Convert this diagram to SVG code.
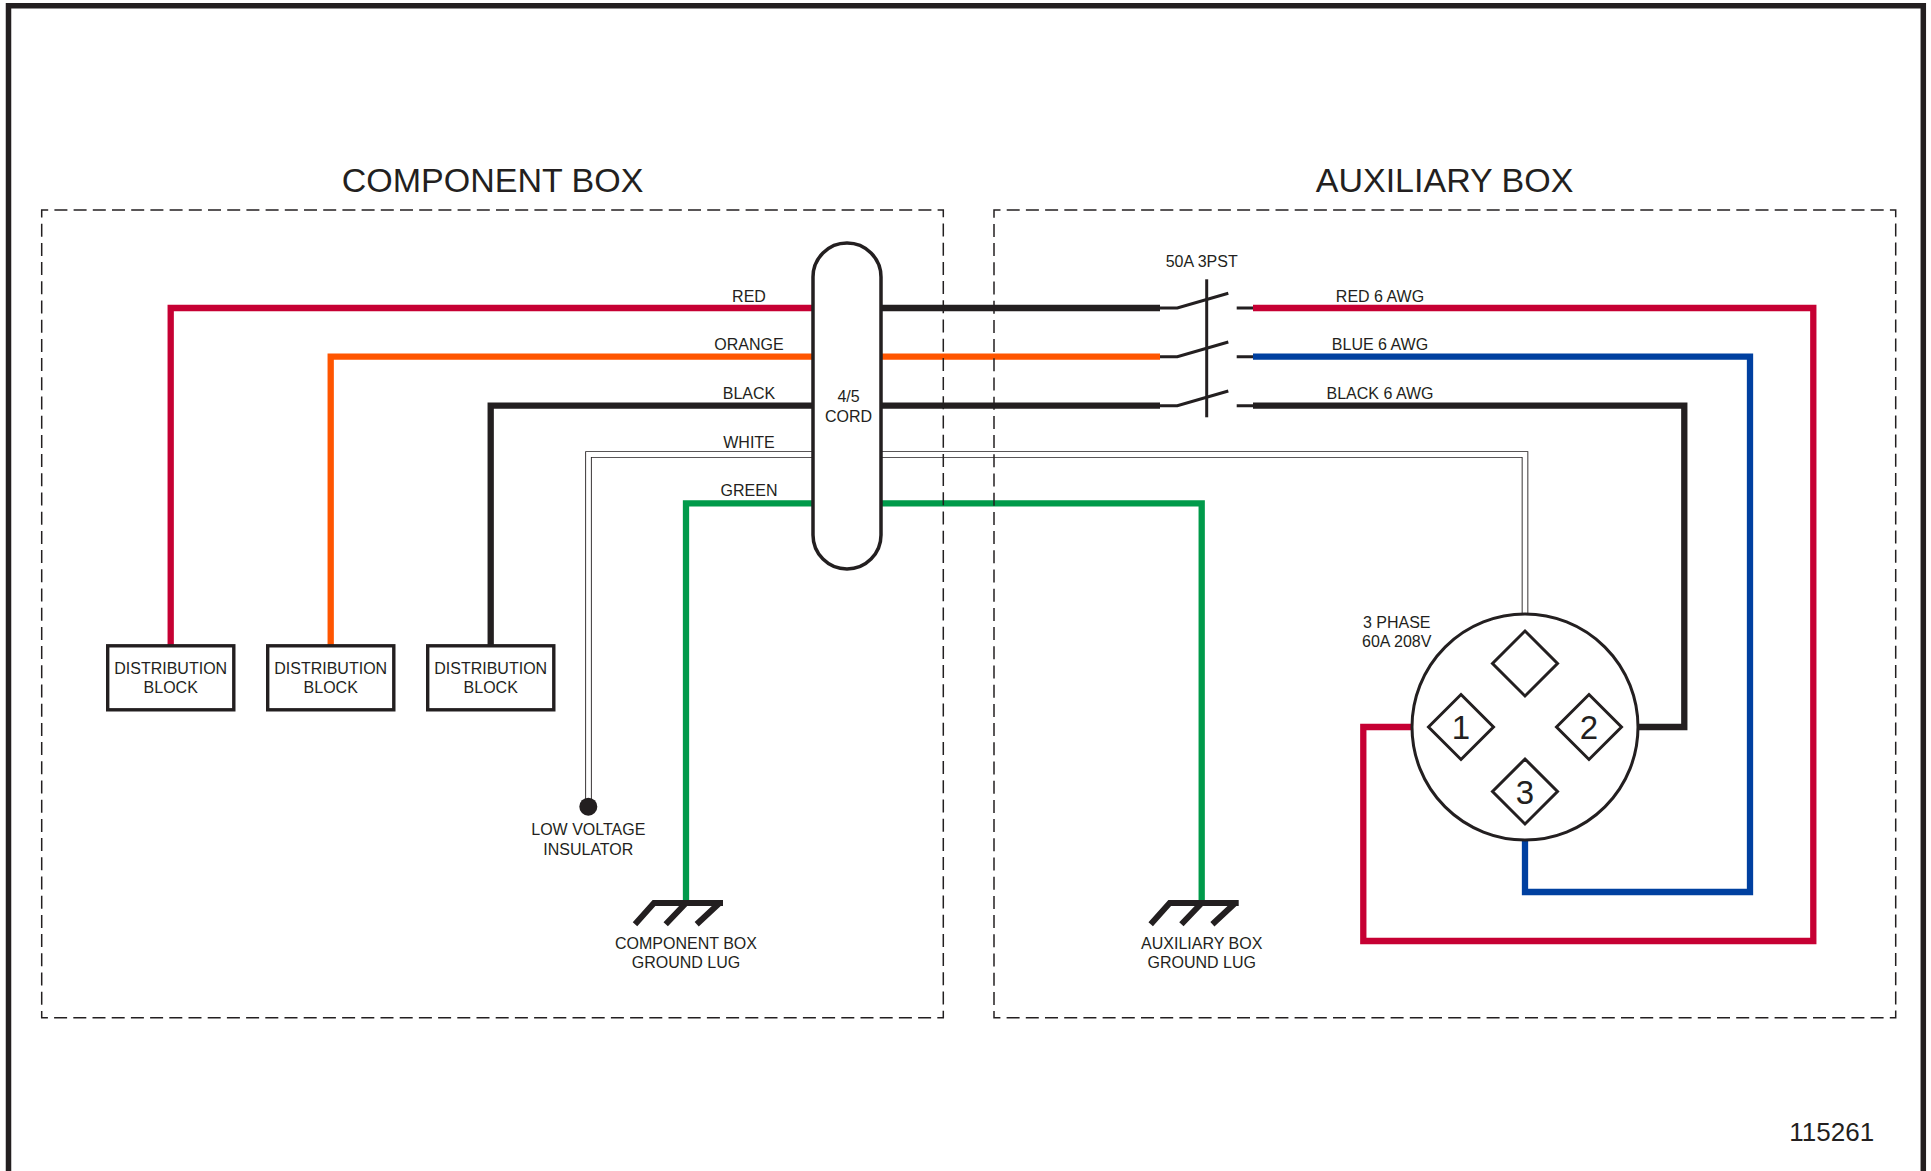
<svg xmlns="http://www.w3.org/2000/svg" width="1931" height="1171" viewBox="0 0 1931 1171">
<style>
text{font-family:"Liberation Sans",Arial,sans-serif;font-size:16px;fill:#231f20;text-anchor:middle}
.h{font-size:34px}
.n{font-size:33px}
.w{fill:none;stroke-width:6.300;stroke-linejoin:miter}
.red{stroke:#c60033}.org{stroke:#ff5500}.blk{stroke:#231f20}.blu{stroke:#0040a0}.grn{stroke:#009a4a}
.t{fill:none;stroke:#231f20;stroke-width:3}
.s{fill:#fff;stroke:#231f20;stroke-width:3}
.b{fill:#fff;stroke:#231f20;stroke-width:3.400}
.d{fill:none;stroke:#231f20;stroke-width:1.500;stroke-dasharray:13 6.200;stroke-dashoffset:6.500}
.g{fill:none;stroke:#231f20;stroke-width:6}
</style>
<path id="frame" d="M8.500 1171V5.800H1923.300V1171" fill="none" stroke="#231f20" stroke-width="5.500"/>
<g id="connectors">
<path class="w red" d="M813 308H170.700V645"/>
<path class="w org" d="M813 356.700H330.700V645"/>
<path class="w blk" d="M813 405.700H490.700V645"/>
<path class="w grn" d="M813 503.300H686V903"/>
<path fill="none" stroke="#231f20" stroke-width="6.600" d="M588.500 800V454.500H1525V614"/>
<path fill="none" stroke="#fff" stroke-width="4.800" d="M588.500 800V454.500H1525V614"/>
<path class="w blk" d="M881 308H1160"/>
<path class="w org" d="M881 356.700H1160"/>
<path class="w blk" d="M881 405.700H1160"/>
<path class="w grn" d="M881 503.300H1201.700V903"/>
<path class="w red" d="M1253 308H1813.300V941H1363.300V727H1412"/>
<path class="w blu" d="M1253 356.700H1750V892H1525V840"/>
<path class="w blk" d="M1253 405.700H1684.300V727H1638"/>
</g>
<g id="component-box"><rect class="d" x="41.700" y="210" width="901.600" height="807.700"/><text class="h" x="492.600" y="191.500">COMPONENT BOX</text></g>
<g id="auxiliary-box"><rect class="d" x="994" y="210" width="901.700" height="807.700"/><text class="h" x="1444.600" y="191.500">AUXILIARY BOX</text></g>
<g id="wire-labels">
<text x="749" y="302">RED</text>
<text x="749" y="350">ORANGE</text>
<text x="749" y="399">BLACK</text>
<text x="749" y="447.500">WHITE</text>
<text x="749" y="496">GREEN</text>
<text x="1380" y="302">RED 6 AWG</text>
<text x="1380" y="350">BLUE 6 AWG</text>
<text x="1380" y="399">BLACK 6 AWG</text>
</g>
<g id="cord"><rect class="s" x="813" y="243" width="68" height="326" rx="34" style="stroke-width:3.500"/><text x="848.500" y="402">4/5</text><text x="848.500" y="421.500">CORD</text></g>
<g id="switch">
<path class="t" d="M1160 308H1177.300L1228.300 293.300M1236.700 308H1253"/>
<path class="t" d="M1160 356.700H1177.300L1228.300 342M1236.700 356.700H1253"/>
<path class="t" d="M1160 405.700H1177.300L1228.300 391M1236.700 405.700H1253"/>
<path class="t" d="M1206.700 279.300V417.300"/>
<text x="1201.700" y="267.300">50A 3PST</text>
</g>
<g id="block-1"><rect class="b" x="107.700" y="645.800" width="126.100" height="64"/><text x="170.700" y="674">DISTRIBUTION</text><text x="170.700" y="692.700">BLOCK</text></g>
<g id="block-2"><rect class="b" x="267.700" y="645.800" width="126.100" height="64"/><text x="330.700" y="674">DISTRIBUTION</text><text x="330.700" y="692.700">BLOCK</text></g>
<g id="block-3"><rect class="b" x="427.700" y="645.800" width="126.100" height="64"/><text x="490.700" y="674">DISTRIBUTION</text><text x="490.700" y="692.700">BLOCK</text></g>
<g id="insulator"><circle cx="588.300" cy="806.700" r="9" fill="#231f20"/><text x="588.300" y="835">LOW VOLTAGE</text><text x="588.300" y="855">INSULATOR</text></g>
<g id="component-ground"><path class="g" d="M723 903H654L635 924.300M686 903L665.700 924.300M719.500 903L696.700 924.300"/><text x="686" y="949">COMPONENT BOX</text><text x="686" y="968">GROUND LUG</text></g>
<g id="auxiliary-ground"><path class="g" d="M1238.700 903H1169.700L1150.700 924.300M1201.700 903L1181.400 924.300M1235.200 903L1212.400 924.300"/><text x="1201.700" y="949">AUXILIARY BOX</text><text x="1201.700" y="968">GROUND LUG</text></g>
<g id="connector">
<circle class="s" cx="1525" cy="727" r="113"/>
<path class="t" d="M1525 631L1557.500 663.500L1525 696L1492.500 663.500Z"/>
<path class="t" d="M1461 694.500L1493.500 727L1461 759.500L1428.500 727Z"/>
<path class="t" d="M1589 694.500L1621.500 727L1589 759.500L1556.500 727Z"/>
<path class="t" d="M1525 759L1557.500 791.500L1525 824L1492.500 791.500Z"/>
<text class="n" x="1461" y="739">1</text>
<text class="n" x="1589" y="739">2</text>
<text class="n" x="1525" y="803.500">3</text>
<text x="1396.700" y="628.300">3 PHASE</text>
<text x="1396.700" y="647.300">60A 208V</text>
</g>
<text id="drawing-number" x="1831.700" y="1140.500" style="font-size:26px">115261</text>
</svg>
